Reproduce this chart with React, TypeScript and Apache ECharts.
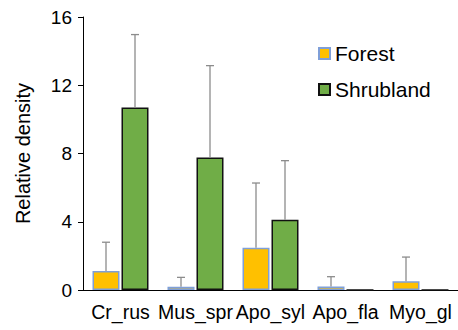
import React, { useEffect, useRef } from "react";
import * as echarts from "echarts";

const categories = ["Cr_rus", "Mus_spr", "Apo_syl", "Apo_fla", "Myo_gl"];
const forestValues = [1.11, 0.19, 2.48, 0.21, 0.51];
const forestErrorTop = [2.8, 0.74, 6.27, 0.78, 1.93];
const shrubValues = [10.69, 7.76, 4.12, 0, 0];
const shrubErrorTop = [14.97, 13.15, 7.58, 0, 0];
const yTicks = [0, 4, 8, 12, 16];

const FONT = "Liberation Sans, Arial, sans-serif";

export default function App() {
  const ref = useRef<HTMLDivElement>(null);
  useEffect(() => {
    if (!ref.current) return;
    const chart = echarts.init(ref.current, undefined, { renderer: "svg" });
    const barW = 27;
    const offset = 14.5;
    const errItem = (off: number) => (params: any, api: any) => {
      const idx = api.value(0);
      const v = api.value(1);
      const t = api.value(2);
      if (!(t > v)) return null;
      const p0 = api.coord([idx, v]);
      const p1 = api.coord([idx, t]);
      const x = p0[0] + off;
      const style = { stroke: "#8c8c8c", lineWidth: 1.3 };
      return {
        type: "group",
        children: [
          { type: "line", shape: { x1: x, y1: p0[1], x2: x, y2: p1[1] }, style },
          { type: "line", shape: { x1: x - 4, y1: p1[1], x2: x + 4, y2: p1[1] }, style },
        ],
      };
    };
    chart.setOption({
      animation: false,
      textStyle: { fontFamily: FONT },
      grid: { left: 83, top: 17, width: 380, bottom: 40, containLabel: false },
      legend: {
        orient: "vertical",
        left: 313,
        top: 38,
        itemWidth: 11,
        itemHeight: 11,
        itemGap: 15,
        icon: "rect",
        textStyle: { fontSize: 21, color: "#000", fontFamily: FONT },
        data: ["Forest", "Shrubland"],
      },
      xAxis: {
        type: "category",
        data: categories,
        axisLine: { lineStyle: { color: "#000", width: 1 } },
        axisTick: { show: false },
        axisLabel: { fontSize: 19.5, color: "#000", margin: 12, interval: 0, fontFamily: FONT },
      },
      yAxis: {
        type: "value",
        min: yTicks[0],
        max: yTicks[yTicks.length - 1],
        interval: 4,
        name: "Relative density",
        nameLocation: "middle",
        nameGap: 50,
        nameTextStyle: { fontSize: 20, color: "#000", fontFamily: FONT },
        splitLine: { show: false },
        axisLine: { show: true, lineStyle: { color: "#000", width: 1 } },
        axisTick: { show: true, length: 5, lineStyle: { color: "#000" } },
        axisLabel: { fontSize: 19, color: "#000", margin: 11, fontFamily: FONT },
      },
      series: [
        {
          name: "Forest",
          type: "bar",
          data: forestValues,
          barWidth: barW,
          barGap: "7.4%",
          itemStyle: { color: "#FFC000", borderColor: "#7f9fd8", borderWidth: 1.5 },
        },
        {
          name: "Shrubland",
          type: "bar",
          data: shrubValues,
          barWidth: barW,
          itemStyle: { color: "#70AD47", borderColor: "#111", borderWidth: 1.5 },
        },
        {
          name: "ForestErr",
          type: "custom",
          renderItem: errItem(-offset),
          data: categories.map((_, i) => [i, forestValues[i], forestErrorTop[i]]),
          encode: { x: 0, y: [1, 2] },
          z: 5,
        },
        {
          name: "ShrubErr",
          type: "custom",
          renderItem: errItem(offset),
          data: categories.map((_, i) => [i, shrubValues[i], shrubErrorTop[i]]),
          encode: { x: 0, y: [1, 2] },
          z: 5,
        },
      ],
    });
    return () => chart.dispose();
  }, []);
  return <div ref={ref} style={{ width: 458, height: 330, position: "absolute", left: 0, top: 0 }} />;
}
